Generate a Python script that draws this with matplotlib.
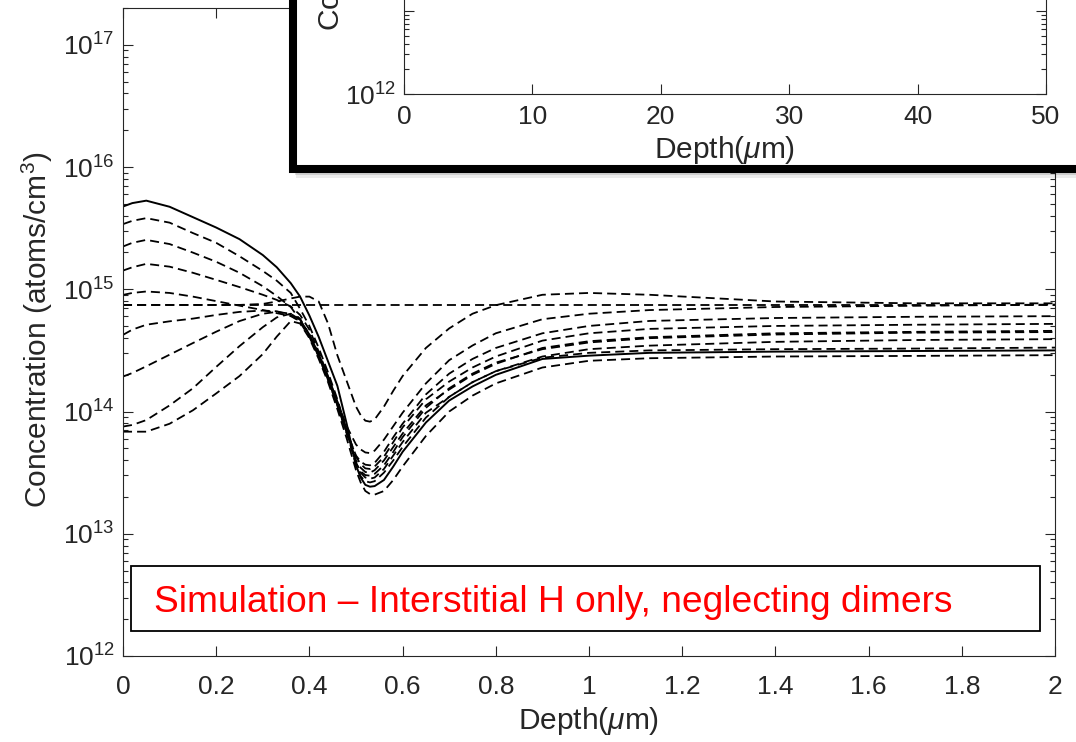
import matplotlib
matplotlib.use('Agg')
import matplotlib.pyplot as plt
import numpy as np
from matplotlib.patches import Rectangle
from matplotlib.ticker import LogLocator, FixedLocator, FuncFormatter, NullFormatter

plt.rcParams['font.family'] = ['Liberation Sans', 'DejaVu Sans']
plt.rcParams['mathtext.fontset'] = 'custom'
plt.rcParams['mathtext.rm'] = 'Liberation Sans'
plt.rcParams['mathtext.it'] = 'Liberation Sans:italic'

GREY = '#262626'

# depth grid (um) and simulated H profiles, log10 of concentration (atoms/cm^3)
depth = [0, 0.02, 0.05, 0.1, 0.15, 0.2, 0.25, 0.3, 0.33, 0.36, 0.38, 0.40,
         0.42, 0.44, 0.46, 0.48, 0.50, 0.51, 0.52, 0.53, 0.54, 0.56, 0.58,
         0.60, 0.65, 0.70, 0.75, 0.80, 0.90, 1.0, 1.13, 1.4, 1.7, 2.0]

initial_level = 14.872

final = [15.677, 15.705, 15.725, 15.675, 15.59, 15.505, 15.41, 15.28,
         15.18, 15.05, 14.94, 14.785, 14.61, 14.41, 14.21, 13.90,
         13.56, 13.46, 13.40, 13.385, 13.39, 13.44, 13.55, 13.67,
         13.91, 14.09, 14.205, 14.30, 14.43, 14.457, 14.48, 14.49, 14.495, 14.50]

early = [14.872, 14.872, 14.872, 14.872, 14.872, 14.872, 14.872, 14.88,
         14.90, 14.925, 14.94, 14.94, 14.90, 14.72, 14.46, 14.25,
         14.04, 13.97, 13.925, 13.917, 13.935, 14.04, 14.17, 14.29,
         14.52, 14.68, 14.80, 14.87, 14.955, 14.97, 14.955, 14.90, 14.885, 14.885]

p1 = [15.533, 15.56, 15.582, 15.545, 15.46, 15.38, 15.27, 15.15,
      15.07, 14.97, 14.84, 14.70, 14.52, 14.32, 14.10, 13.85,
      13.56, 13.47, 13.43, 13.42, 13.43, 13.50, 13.60, 13.71,
      13.95, 14.12, 14.24, 14.33, 14.44, 14.48, 14.50, 14.51, 14.515, 14.523]

p2 = [15.35, 15.38, 15.404, 15.37, 15.30, 15.225, 15.135, 15.025,
      14.945, 14.855, 14.75, 14.63, 14.47, 14.29, 14.08, 13.84,
      13.58, 13.51, 13.48, 13.475, 13.49, 13.56, 13.67, 13.79,
      14.03, 14.19, 14.31, 14.40, 14.51, 14.565, 14.60, 14.63, 14.645, 14.65]

p3 = [15.153, 15.18, 15.208, 15.185, 15.135, 15.077, 15.018, 14.955,
      14.913, 14.86, 14.79, 14.67, 14.49, 14.29, 14.08, 13.85,
      13.63, 13.57, 13.535, 13.53, 13.55, 13.63, 13.75, 13.87,
      14.10, 14.245, 14.36, 14.45, 14.58, 14.64, 14.676, 14.70, 14.71, 14.717]

p4 = [14.954, 14.97, 14.982, 14.97, 14.94, 14.903, 14.866, 14.83,
      14.805, 14.78, 14.74, 14.63, 14.47, 14.28, 14.08, 13.88,
      13.73, 13.69, 13.665, 13.66, 13.68, 13.77, 13.88, 13.99,
      14.23, 14.42, 14.54, 14.64, 14.755, 14.80, 14.83, 14.855, 14.865, 14.875]

p5 = [14.627, 14.67, 14.71, 14.738, 14.76, 14.79, 14.815, 14.826,
      14.82, 14.79, 14.73, 14.61, 14.45, 14.26, 14.05, 13.83,
      13.64, 13.59, 13.565, 13.56, 13.58, 13.67, 13.79, 13.90,
      14.14, 14.31, 14.43, 14.52, 14.64, 14.70, 14.741, 14.765, 14.775, 14.78]

p6 = [14.286, 14.315, 14.37, 14.465, 14.56, 14.653, 14.74, 14.80,
      14.815, 14.80, 14.75, 14.63, 14.46, 14.27, 14.06, 13.83,
      13.60, 13.54, 13.505, 13.50, 13.52, 13.60, 13.71, 13.82,
      14.05, 14.18, 14.30, 14.39, 14.52, 14.575, 14.608, 14.64, 14.652, 14.66]

p7 = [13.877, 13.89, 13.93, 14.05, 14.19, 14.365, 14.535, 14.69,
      14.77, 14.80, 14.76, 14.62, 14.45, 14.26, 14.05, 13.82,
      13.58, 13.50, 13.46, 13.45, 13.46, 13.53, 13.64, 13.75,
      13.99, 14.12, 14.24, 14.33, 14.45, 14.51, 14.539, 14.57, 14.585, 14.592]

p8 = [13.835, 13.835, 13.835, 13.90, 14.01, 14.148, 14.29, 14.47,
      14.613, 14.74, 14.72, 14.60, 14.43, 14.24, 14.02, 13.78,
      13.52, 13.42, 13.35, 13.325, 13.32, 13.35, 13.44, 13.55,
      13.80, 14.00, 14.13, 14.23, 14.36, 14.415, 14.436, 14.45, 14.455, 14.461]

note = 'Simulation \u2013 Interstitial H only, neglecting dimers'

W, H = 1076, 742
TICK_FS = 19
LABEL_FS = 21.5


def px_box(left, top, right, bottom):
    return [left / W, 1 - bottom / H, (right - left) / W, (bottom - top) / H]


def log_ticks(a, length_major, length_minor):
    a.tick_params(which='both', direction='in', top=True, right=True,
                  color=GREY, labelcolor=GREY, labelsize=TICK_FS, width=0.8)
    a.tick_params(which='major', length=length_major)
    a.tick_params(which='minor', length=length_minor)
    for s in a.spines.values():
        s.set_color(GREY)
        s.set_linewidth(0.8)


fig = plt.figure(figsize=(W / 100, H / 100), dpi=100)

# ---- main axes
ax = fig.add_axes(px_box(123, 8, 1055, 656))
ax.set_zorder(0)
x = np.array(depth)
dash = (0, (5.0, 2.8))
ax.plot(x, np.full_like(x, 10 ** initial_level), color='k', lw=1.3, ls=dash)
ax.plot(x, 10 ** np.array(early), color='k', lw=1.3, ls=dash)
for prof in [p1, p2, p3, p4, p5, p6, p7, p8]:
    ax.plot(x, 10 ** np.array(prof), color='k', lw=1.3, ls=dash)
ax.plot(x, 10 ** np.array(final), color='k', lw=1.4)

ax.set_yscale('log')
ax.set_xlim(0, 2)
ax.set_ylim(1e12, 2e17)
ax.xaxis.set_major_locator(FixedLocator(np.arange(0, 2.01, 0.2)))
ax.xaxis.set_major_formatter(FuncFormatter(lambda v, p: '%g' % round(v, 1)))
ax.yaxis.set_major_locator(LogLocator(base=10, numticks=20))
ax.yaxis.set_minor_locator(LogLocator(base=10, subs=np.arange(2, 10), numticks=20))
ax.yaxis.set_minor_formatter(NullFormatter())
log_ticks(ax, 7, 3.6)
ax.tick_params(axis='x', pad=14)
ax.tick_params(axis='y', pad=6)

ax.set_xlabel(r'Depth($\mu$m)', fontsize=LABEL_FS, color=GREY)
ax.set_ylabel(r'Concentration (atoms/cm$^3$)', fontsize=LABEL_FS, color=GREY)
ax.xaxis.set_label_coords((589 - 123) / 932, (656 - 721) / 648)
ax.yaxis.set_label_coords((37 - 123) / 932, (656 - 330) / 648)
ax.xaxis.label.set_va('center')
ax.yaxis.label.set_va('center')

# caption box inside the plot
ax.add_patch(Rectangle((8 / 932, 25 / 648), 909 / 932, 65 / 648,
                       transform=ax.transAxes, facecolor='white',
                       edgecolor='k', lw=1.3, zorder=5))
ax.text(31 / 932, 54 / 648, note, transform=ax.transAxes, color='#ff0000',
        fontsize=26.7, ha='left', va='center', zorder=6)

# ---- inset panel with thick frame and soft shadow
for k, a in enumerate([0.08, 0.12, 0.16]):
    off = 9 - 3 * k
    fig.patches.append(Rectangle(((293 + off * 0.3) / W, 1 - (169 + off) / H), 2, 2,
                                 transform=fig.transFigure, facecolor='k',
                                 edgecolor='none', alpha=a, zorder=1))
fig.patches.append(Rectangle((293 / W, 1 - 169 / H), 2, 2,
                             transform=fig.transFigure, facecolor='white',
                             edgecolor='k', lw=5.8, zorder=2))

ins = fig.add_axes(px_box(404, 94 - 498, 1046, 94))
ins.set_zorder(3)
ins.set_yscale('log')
ins.set_xlim(0, 50)
ins.set_ylim(1e12, 1e18)
ins.xaxis.set_major_locator(FixedLocator([0, 10, 20, 30, 40, 50]))
ins.yaxis.set_major_locator(LogLocator(base=10, numticks=20))
ins.yaxis.set_minor_locator(LogLocator(base=10, subs=np.arange(2, 10), numticks=20))
ins.yaxis.set_minor_formatter(NullFormatter())
ins.yaxis.set_major_formatter(FuncFormatter(
    lambda v, p: r'$\mathdefault{10^{%d}}$' % round(np.log10(v))
    if round(np.log10(v)) % 2 == 0 else ''))
log_ticks(ins, 7, 3.6)
ins.tick_params(axis='x', pad=8)
ins.tick_params(axis='y', pad=6)
ins.set_xlabel(r'Depth($\mu$m)', fontsize=LABEL_FS, color=GREY)
ins.set_ylabel(r'Concentration (atoms/cm$^3$)', fontsize=LABEL_FS, color=GREY)
ins.xaxis.set_label_coords(0.5, -(150 - 94) / 498)
ins.yaxis.set_label_coords(-(404 - 330) / 642, (94 + 147) / 498)
ins.xaxis.label.set_va('center')
ins.yaxis.label.set_va('center')

fig.savefig('out.png', dpi=100)
